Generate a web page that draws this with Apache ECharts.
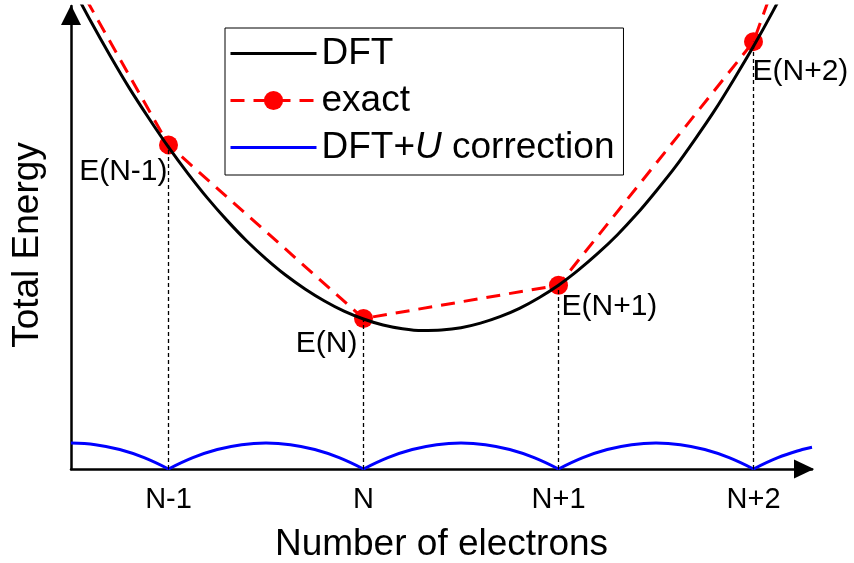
<!DOCTYPE html>
<html>
<head>
<meta charset="utf-8">
<title>Total energy vs number of electrons</title>
<script src="https://cdn.jsdelivr.net/npm/echarts@6/dist/echarts.min.js"></script>
<style>
  html, body { margin: 0; padding: 0; background: #fff; }
  #chart { width: 854px; height: 563px; }
</style>
</head>
<body>
<div id="chart"></div>
<script>
// Electron count relative to N-1 (0 = N-1, 1 = N, ...) and energies in arbitrary units.
const xMin = -0.5;
const xMax = 3.3;
const yMax = 10;

const tickPos = [0, 1, 2, 3];
const tickLabels = ['N-1', 'N', 'N+1', 'N+2'];

// DFT total energy: smooth, convex curve
const dftX = [-0.5, -0.4, -0.3, -0.2, -0.1, 0, 0.1, 0.2, 0.3, 0.4, 0.5, 0.6, 0.7, 0.8, 0.9,
              1.0, 1.1, 1.2, 1.3, 1.4, 1.5, 1.6, 1.7, 1.8, 1.9, 2.0, 2.1, 2.2, 2.3, 2.4,
              2.5, 2.6, 2.7, 2.8, 2.9, 3.0, 3.1, 3.2, 3.3];
const dftE = [10.47, 9.68, 8.93, 8.22, 7.57, 6.95, 6.38, 5.85, 5.37, 4.93, 4.54, 4.19, 3.89, 3.63, 3.41,
              3.24, 3.11, 3.03, 2.99, 3.00, 3.05, 3.15, 3.29, 3.47, 3.70, 3.97, 4.29, 4.65, 5.05, 5.50,
              6.00, 6.53, 7.12, 7.74, 8.42, 9.13, 9.89, 10.70, 11.55];

// Exact energy: piecewise linear between integer electron numbers
const exactX = [-1, 0, 1, 2, 3, 4];
const exactE = [14.45, 7.0, 3.25, 3.97, 9.23, 20.9];
const exactLabels = ['', 'E(N-1)', 'E(N)', 'E(N+1)', 'E(N+2)', ''];

// DFT+U correction: arcs vanishing at integer occupations (null = break at the cusp)
const corrX = [-0.5, -0.375, -0.25, -0.125, 0, 0,
               0, 0.125, 0.25, 0.375, 0.5, 0.625, 0.75, 0.875, 1, 1,
               1, 1.125, 1.25, 1.375, 1.5, 1.625, 1.75, 1.875, 2, 2,
               2, 2.125, 2.25, 2.375, 2.5, 2.625, 2.75, 2.875, 3, 3,
               3, 3.125, 3.25, 3.3];
const corrE = [0.56, 0.525, 0.42, 0.245, 0, null,
               0, 0.245, 0.42, 0.525, 0.56, 0.525, 0.42, 0.245, 0, null,
               0, 0.245, 0.42, 0.525, 0.56, 0.525, 0.42, 0.245, 0, null,
               0, 0.245, 0.42, 0.525, 0.56, 0.525, 0.42, 0.245, 0, null,
               0, 0.245, 0.42, 0.47];

const seriesNames = ['DFT', 'exact', 'DFT+U correction'];

// ---- styling ----
const FONT = '"Liberation Sans", Arial, Helvetica, sans-serif';
const dotSize = 19;
// label placement for each exact point: [align, dx, dy] relative to the dot centre
const labelPlace = {
  'E(N-1)': ['right', -1, 27],
  'E(N)':   ['right', -6, 25],
  'E(N+1)': ['left', 3, 22],
  'E(N+2)': ['left', -1, 30]
};

const pairs = (xs, ys) => xs.map((x, i) => [x, ys[i] == null ? '-' : ys[i]]);

const exactData = exactX.map((x, i) => {
  const name = exactLabels[i];
  if (!name) {
    return { value: [x, exactE[i]], symbol: 'none', label: { show: false } };
  }
  const p = labelPlace[name];
  const c = dotSize / 2;
  return {
    value: [x, exactE[i]],
    label: {
      show: true,
      formatter: name,
      position: [c + p[1], c + p[2]],
      align: p[0],
      verticalAlign: 'middle',
      fontSize: 30,
      fontFamily: FONT,
      color: '#000'
    }
  };
});

const dropLines = exactX
  .map((x, i) => ({ x, y: exactE[i], name: exactLabels[i] }))
  .filter(d => d.name)
  .map(d => [{ coord: [d.x, 0] }, { coord: [d.x, d.y] }]);

const chart = echarts.init(document.getElementById('chart'), null, { renderer: 'canvas' });

chart.setOption({
  animation: false,
  backgroundColor: '#fff',
  textStyle: { fontFamily: FONT },
  grid: { left: 71, right: 42, top: 6, bottom: 94, containLabel: false, outerBoundsMode: 'none' },
  legend: {
    // plain line keys for the curves, line + dot for the exact points
    data: [
      { name: 'DFT', itemStyle: { opacity: 0 } },
      { name: 'exact' },
      { name: 'DFT+U correction', itemStyle: { opacity: 0 } }
    ],
    orient: 'vertical',
    left: 225,
    top: 28,
    padding: [7, 9, 9, 4],
    itemWidth: 86,
    itemHeight: 24,
    itemGap: 10,
    itemTextGap: 7,
    borderColor: '#000',
    borderWidth: 1,
    borderRadius: 0,
    backgroundColor: '#fff',
    lineStyle: { width: 3 },
    textStyle: {
      fontSize: 37, lineHeight: 36, color: '#000', fontFamily: FONT,
      rich: {
        t: { fontSize: 37, lineHeight: 36, color: '#000', fontFamily: FONT },
        u: { fontSize: 37, lineHeight: 36, color: '#000', fontFamily: FONT, fontStyle: 'italic' }
      }
    },
    formatter: name => name === 'DFT+U correction' ? '{t|DFT+}{u|U}{t| correction}' : name
  },
  xAxis: {
    type: 'value',
    min: xMin,
    max: xMax,
    name: 'Number of electrons',
    nameLocation: 'middle',
    nameGap: 57,
    nameTextStyle: { fontSize: 37, color: '#000', fontFamily: FONT },
    axisLine: {
      onZero: false,
      lineStyle: { color: '#000', width: 2.5 },
      symbol: ['none', 'triangle'],
      symbolSize: [19, 20],
      symbolOffset: [0, -8]
    },
    axisTick: { show: false },
    splitLine: { show: false },
    axisLabel: {
      customValues: tickPos,
      formatter: v => tickLabels[tickPos.indexOf(Math.round(v))] ?? '',
      margin: 16,
      fontSize: 29,
      color: '#000',
      fontFamily: FONT
    }
  },
  yAxis: {
    type: 'value',
    min: 0,
    max: yMax,
    name: 'Total Energy',
    nameLocation: 'middle',
    nameGap: 25,
    nameTextStyle: { fontSize: 37, color: '#000', fontFamily: FONT, padding: [0, 15, 0, 0] },
    axisLine: {
      onZero: false,
      lineStyle: { color: '#000', width: 2.5 },
      symbol: ['none', 'triangle'],
      symbolSize: [20, 20],
      symbolOffset: [0, -9]
    },
    axisTick: { show: false },
    axisLabel: { show: false },
    splitLine: { show: false }
  },
  series: [
    {
      name: 'DFT+U correction',
      type: 'line',
      data: pairs(corrX, corrE),
      symbol: 'none',
      smooth: 0.4,
      connectNulls: false,
      clip: true,
      lineStyle: { color: '#0000ff', width: 3 },
      itemStyle: { color: '#0000ff' },
      z: 2
    },
    {
      name: 'exact',
      type: 'line',
      data: exactData,
      symbol: 'circle',
      symbolSize: dotSize,
      showSymbol: true,
      clip: true,
      lineStyle: { color: '#ff0000', width: 3, type: [14, 9] },
      itemStyle: { color: '#ff0000' },
      markLine: {
        silent: true,
        symbol: ['none', 'none'],
        label: { show: false },
        lineStyle: { color: '#000', width: 1.3, type: [4, 3] },
        emphasis: { disabled: true },
        data: dropLines
      },
      z: 3
    },
    {
      name: 'DFT',
      type: 'line',
      data: pairs(dftX, dftE),
      symbol: 'none',
      smooth: 0.3,
      clip: true,
      lineStyle: { color: '#000', width: 3 },
      itemStyle: { color: '#000' },
      z: 4
    }
  ]
});
</script>
</body>
</html>
